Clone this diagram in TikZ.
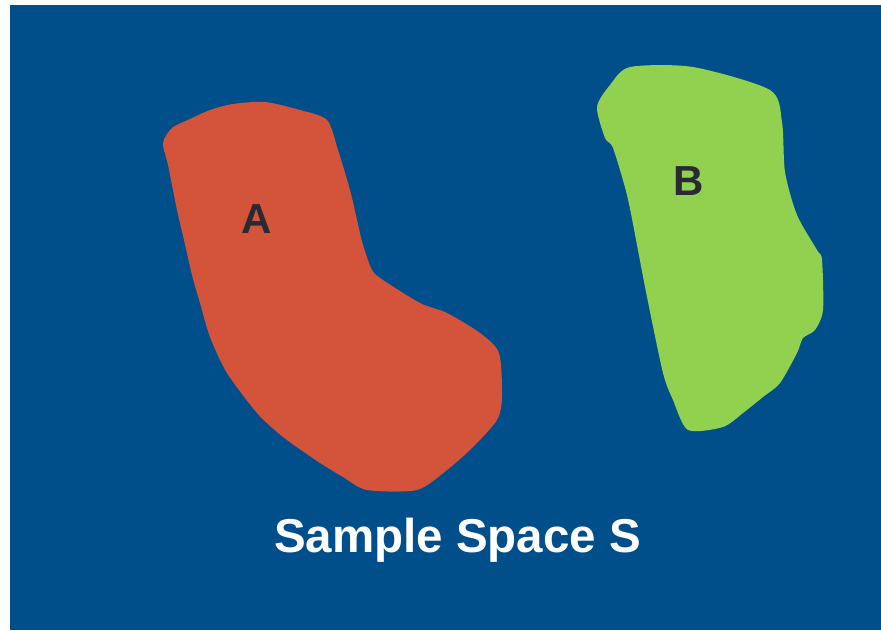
\documentclass[tikz,border=0pt]{standalone}
\usepackage{fontspec}
\setmainfont{Liberation Sans}
\usepackage{xcolor}
\definecolor{spaceblue}{RGB}{0,79,138}
\definecolor{eventA}{RGB}{211,84,59}
\definecolor{eventB}{RGB}{146,208,80}
\definecolor{labeldark}{RGB}{42,42,52}
\tikzset{
  blob/.style={draw=none,smooth cycle,tension=0.45},
  eventlabel/.style={font=\fontsize{42}{42}\selectfont\bfseries,text=labeldark,inner sep=0pt},
  spacelabel/.style={font=\fontsize{47.5}{47.5}\selectfont\bfseries,text=white,inner sep=0pt},
}

\begin{document}
\begin{tikzpicture}[x=1pt,y=-1pt]
  \useasboundingbox (0,0) rectangle (881,630);
  % Sample space
  \fill[spaceblue] (10,5) rectangle (881,630);
  % Event A
  \fill[eventA] plot[blob] coordinates {
    (163,143) (172,128) (190,119) (210,110) (233,104) (265,102) (300,110)
    (327,120) (338,150) (350,190) (357,220) (363,245) (372,270) (383,280)
    (420,303) (447,313) (480,333) (499,353) (502,397) (497,420) (473,447)
    (447,470) (417,490) (367,490) (343,477) (320,463) (283,437) (257,413)
    (227,373) (210,337) (200,303) (192,275) (184,240) (177,210) (168,165)};
  % Event B
  \fill[eventB] plot[blob] coordinates {
    (630,67) (693,67) (770,90) (782,122) (785,172) (797,215)
    (817,250) (822,260) (823,310) (815,330) (803,338) (797,353) (780,383)
    (763,397) (743,413) (723,427) (688,430) (673,400) (663,373) (647,297)
    (637,245) (627,195) (613,148) (605,138) (597,107) (610,85)};
  \node[eventlabel] (A) at (257,219) {A};
  \node[eventlabel] (B) at (689,181) {B};
  \node[spacelabel,anchor=base] (S) at (457.5,552) {Sample Space S};
\end{tikzpicture}
\end{document}
